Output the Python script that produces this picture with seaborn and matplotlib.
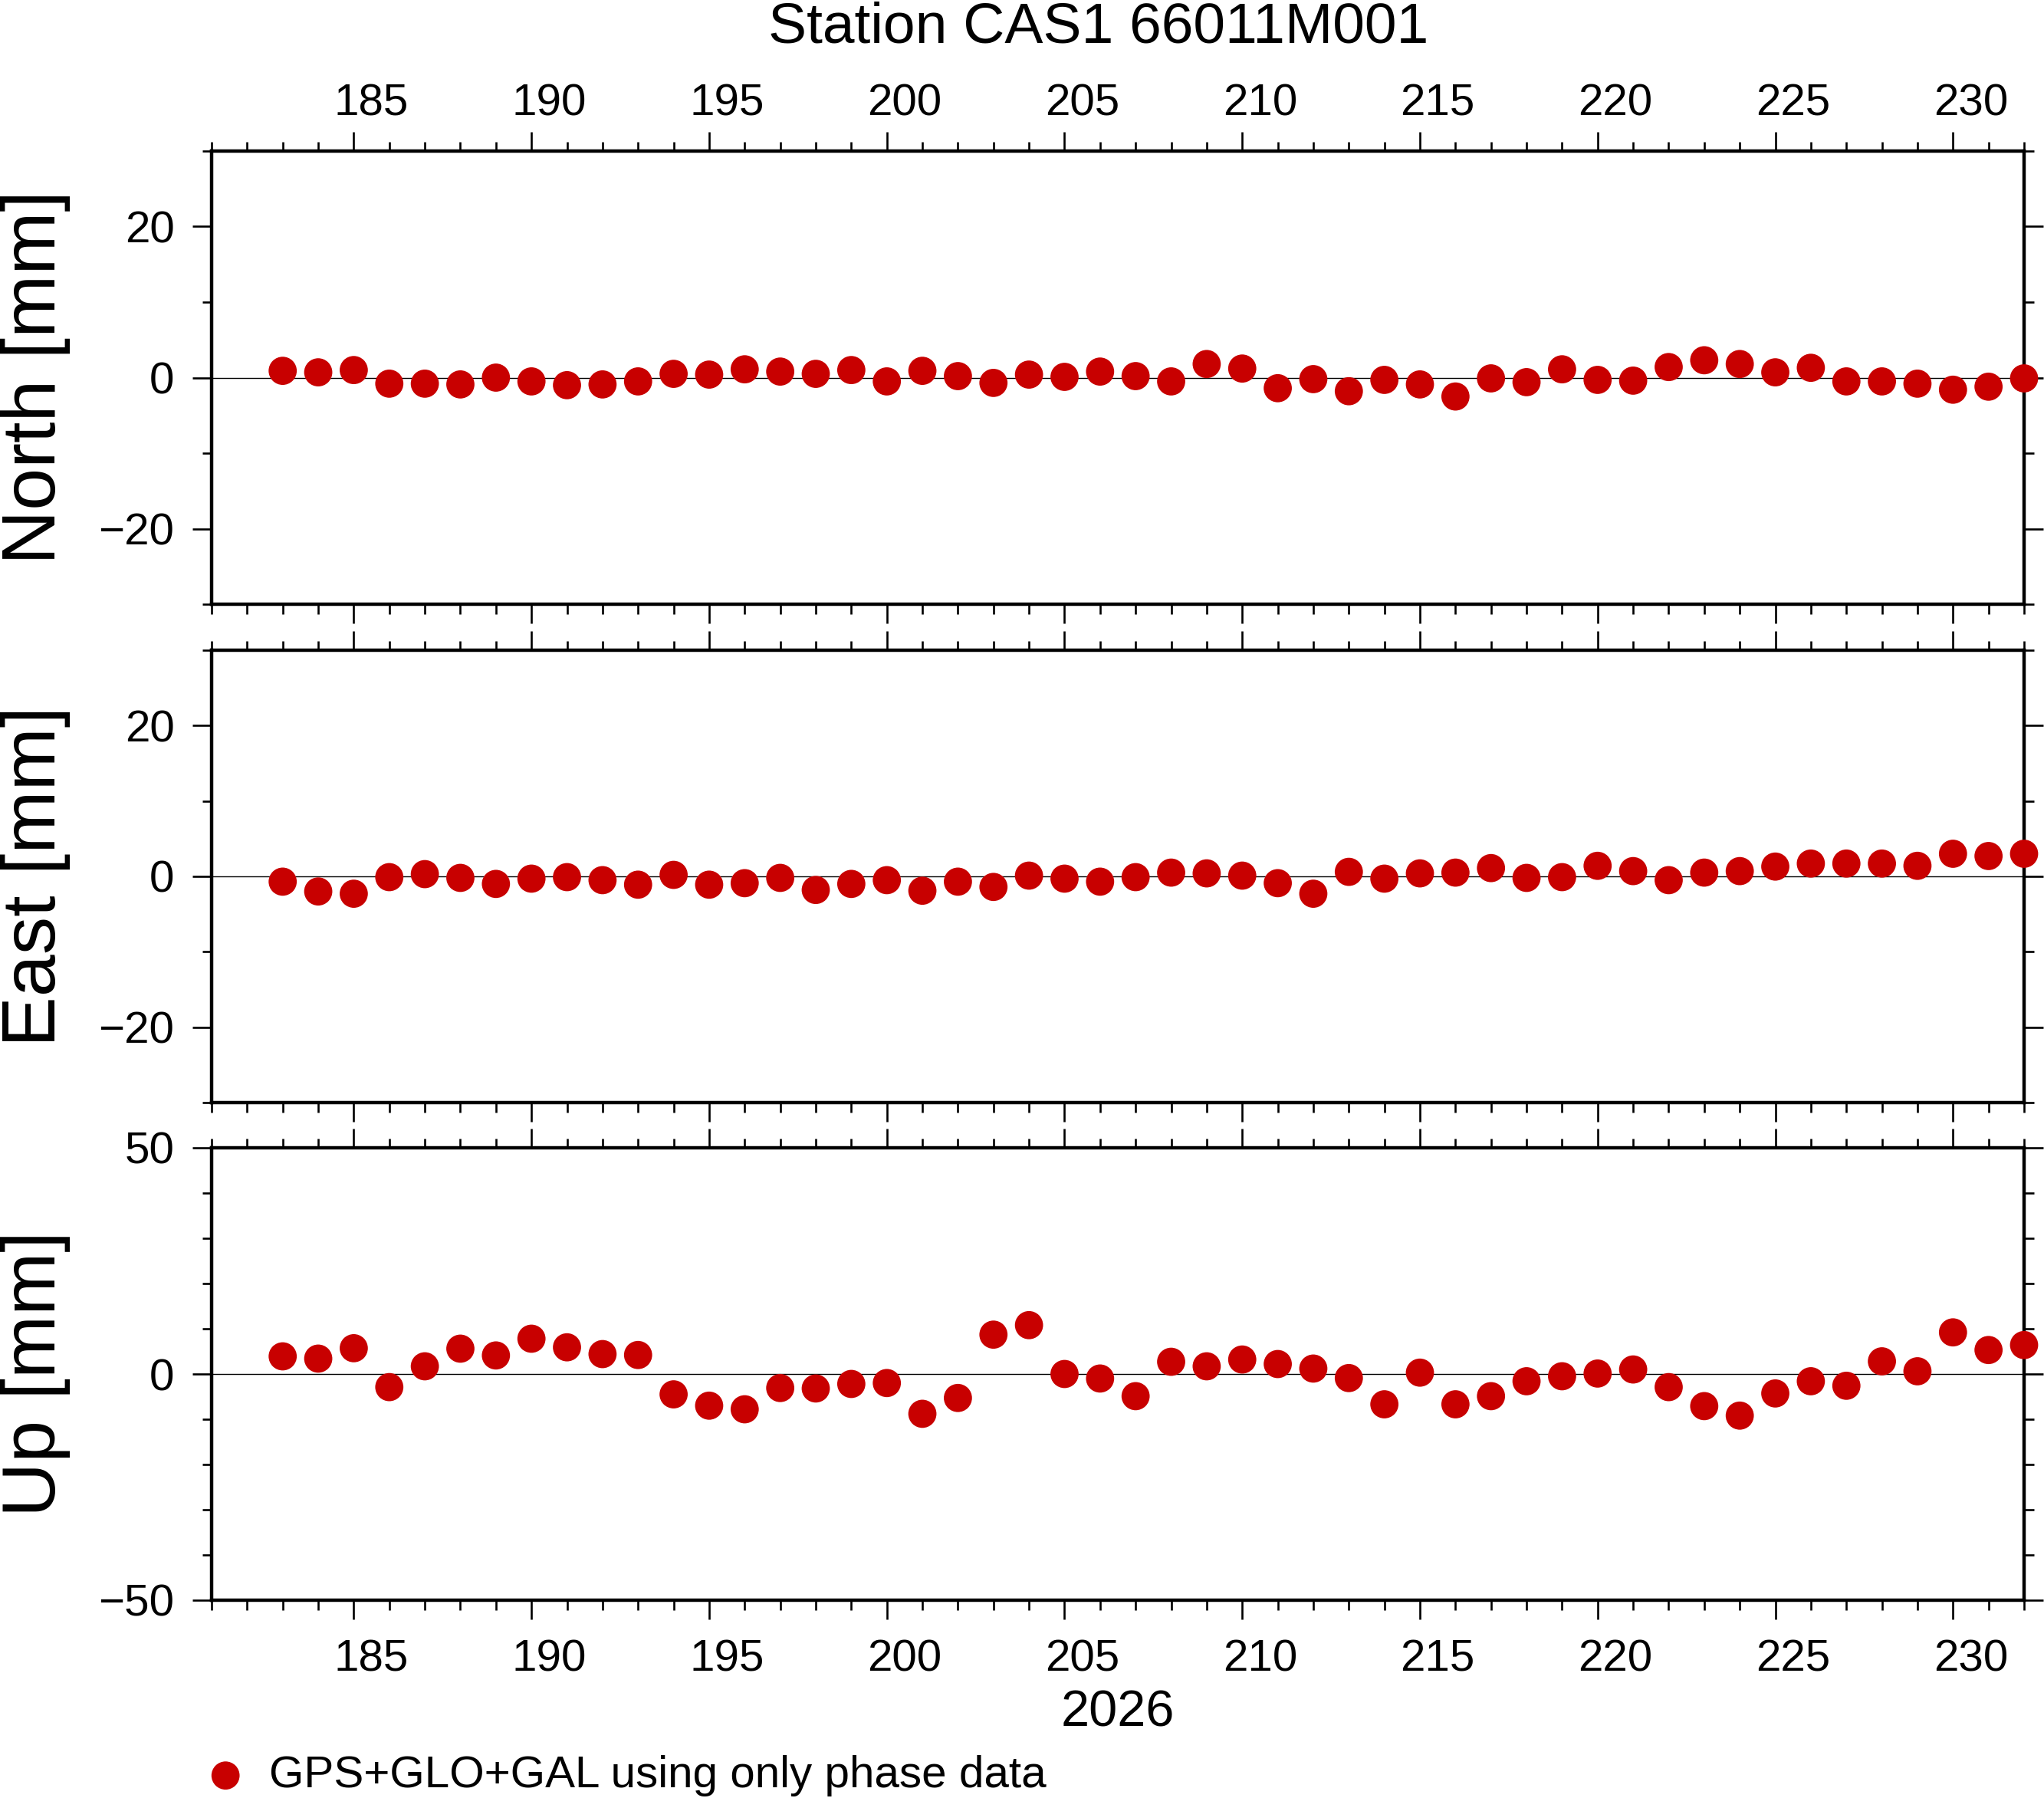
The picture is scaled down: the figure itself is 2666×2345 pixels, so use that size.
import numpy as np
import pandas as pd
import seaborn as sns
import matplotlib
matplotlib.use("Agg")
import matplotlib.pyplot as plt
from matplotlib.ticker import MultipleLocator
from matplotlib.transforms import ScaledTranslation

# ---------------- data ----------------
days = [183, 184, 185, 186, 187, 188, 189, 190, 191, 192,
        193, 194, 195, 196, 197, 198, 199, 200, 201, 202,
        203, 204, 205, 206, 207, 208, 209, 210, 211, 212,
        213, 214, 215, 216, 217, 218, 219, 220, 221, 222,
        223, 224, 225, 226, 227, 228, 229, 230, 231, 232]

north = [0.9, 0.7, 1.0, -0.8, -0.8, -0.9, 0.0, -0.5, -1.0, -0.9,
         -0.5, 0.5, 0.4, 1.1, 0.8, 0.5, 1.0, -0.5, 0.9, 0.2,
         -0.7, 0.4, 0.1, 0.8, 0.2, -0.5, 1.8, 1.2, -1.4, -0.2,
         -1.8, -0.3, -0.9, -2.5, -0.1, -0.6, 1.1, -0.3, -0.4, 1.4,
         2.3, 1.8, 0.7, 1.3, -0.5, -0.5, -0.8, -1.6, -1.2, -0.1]

east = [-0.7, -2.0, -2.3, -0.1, 0.3, -0.2, -1.0, -0.3, -0.1, -0.5,
        -1.1, 0.2, -1.1, -0.9, -0.2, -1.8, -1.0, -0.5, -1.9, -0.7,
        -1.4, 0.1, -0.3, -0.7, -0.1, 0.5, 0.4, 0.1, -0.9, -2.3,
        0.6, -0.3, 0.4, 0.5, 1.1, -0.2, -0.1, 1.4, 0.7, -0.5,
        0.5, 0.7, 1.3, 1.7, 1.7, 1.7, 1.4, 3.0, 2.7, 3.0]

up = [3.9, 3.4, 5.7, -2.9, 1.7, 5.6, 4.1, 7.8, 5.9, 4.4,
      4.2, -4.5, -7.0, -7.8, -3.1, -3.2, -2.2, -2.0, -8.8, -5.3,
      8.7, 10.8, 0.0, -1.0, -4.9, 2.7, 1.7, 3.2, 2.2, 1.2,
      -0.9, -6.7, 0.3, -6.7, -4.9, -1.6, -0.5, 0.1, 1.0, -2.9,
      -7.1, -9.2, -4.3, -1.6, -2.6, 2.8, 0.6, 9.2, 5.3, 6.4]

panel_labels = ["North [mm]", "East [mm]", "Up [mm]"]
title = "Station CAS1 66011M001"
year_label = "2026"
series_label = "GPS+GLO+GAL using only phase data"

# ---------------- style ----------------
sns.set_style("ticks")
plt.rcParams["font.family"] = ["Liberation Sans", "DejaVu Sans"]
plt.rcParams.update({
    "axes.linewidth": 3.2,
    "axes.edgecolor": "black",
    "axes.labelcolor": "black",
    "text.color": "black",
    "xtick.color": "black",
    "ytick.color": "black",
    "xtick.labelcolor": "black",
    "ytick.labelcolor": "black",
})

W_PX, H_PX, DPI = 2666, 2345, 100
fig = plt.figure(figsize=(W_PX / DPI, H_PX / DPI), dpi=DPI)

left_px, right_px = 276, 2640
panels_px = [(197, 788), (848, 1438), (1497, 2087)]
L = left_px / W_PX
Wd = (right_px - left_px) / W_PX

df = pd.DataFrame({"day": days, "North": north, "East": east, "Up": up})
cols = ["North", "East", "Up"]
ylims = [(-30, 30), (-30, 30), (-50, 50)]
ymaj = [20, 20, 50]
xlim = (181, 232)
red = "#C80000"

axes = []
for i, (top, bot) in enumerate(panels_px):
    ax = fig.add_axes([L, 1 - bot / H_PX, Wd, (bot - top) / H_PX])
    axes.append(ax)
    ax.axhline(0, color="black", lw=1.0, zorder=1)
    sns.scatterplot(data=df, x="day", y=cols[i], ax=ax, color=red, s=700,
                    linewidth=0, edgecolor="none", clip_on=False, zorder=3,
                    legend=False, label=series_label if i == 0 else None)
    ax.set_xlim(*xlim)
    ax.set_ylim(*ylims[i])
    ax.xaxis.set_major_locator(MultipleLocator(5))
    ax.xaxis.set_minor_locator(MultipleLocator(1))
    ax.yaxis.set_major_locator(MultipleLocator(ymaj[i]))
    ax.yaxis.set_minor_locator(MultipleLocator(10))
    ax.set_xlabel("")
    ax.set_ylabel(panel_labels[i], fontsize=71, color="black")
    ax.yaxis.set_label_coords((47 - left_px) / (right_px - left_px), 0.5)
    ax.yaxis.label.set_va("center")
    for sp in ax.spines.values():
        sp.set_visible(True)
        sp.set_linewidth(3.2)
        sp.set_color("black")
        sp.set_zorder(2.5)
    ax.tick_params(axis="both", which="both", direction="out",
                   top=True, bottom=True, left=True, right=True,
                   labelright=False, width=1.9, color="black",
                   labelcolor="black", labelsize=42)
    ax.tick_params(axis="both", which="major", length=18)
    ax.tick_params(axis="both", which="minor", length=9)
    ax.tick_params(axis="y", which="major", pad=17)
    ax.tick_params(axis="x", labeltop=(i == 0), labelbottom=(i == 2))
    if ax.get_legend() is not None:
        ax.get_legend().remove()

axes[0].tick_params(axis="x", which="major", pad=7)
axes[2].tick_params(axis="x", which="major", pad=18)

axes[2].set_xlabel(year_label, fontsize=48, color="black")
axes[2].xaxis.set_label_coords(0.5, (2087 - 2234) / (2087 - 1497))
axes[2].xaxis.label.set_va("center")

# x tick labels sit in the middle of the day interval (GMT style)
for ax in axes:
    ax_w_in = ax.get_position().width * fig.get_figwidth()
    dx = ax_w_in * 0.5 / (xlim[1] - xlim[0])
    off = ScaledTranslation(dx, 0, fig.dpi_scale_trans)
    for tk in ax.xaxis.get_major_ticks():
        tk.label1.set_transform(tk.label1.get_transform() + off)
        tk.label2.set_transform(tk.label2.get_transform() + off)

fig.suptitle(title, x=1433 / W_PX, y=1 - 36 / H_PX, va="center",
             ha="center", fontsize=54, color="black")

handles, labels = axes[0].get_legend_handles_labels()
leg = fig.legend(handles, labels, loc="center left",
                 bbox_to_anchor=(265 / W_PX, 1 - 2316 / H_PX),
                 frameon=False, fontsize=42, handlelength=1.0,
                 handletextpad=0.48, borderpad=0, borderaxespad=0)
for t in leg.get_texts():
    t.set_color("black")

fig.savefig("out.png", dpi=DPI)
